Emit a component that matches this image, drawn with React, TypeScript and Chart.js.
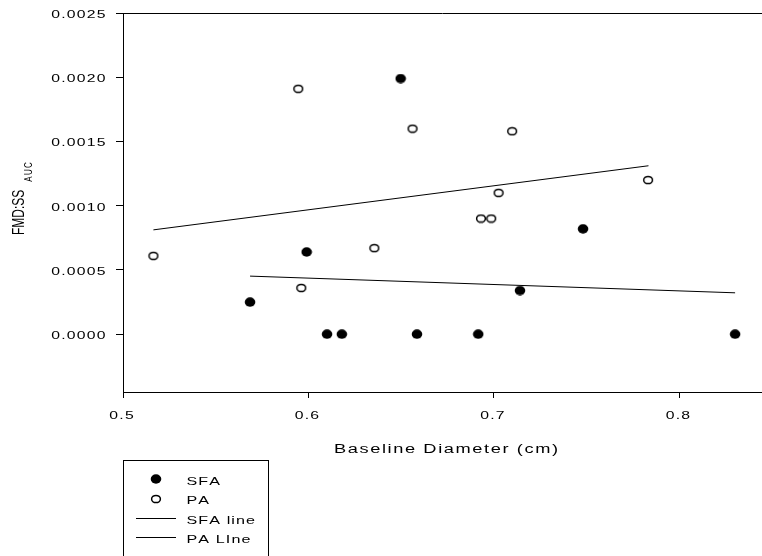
import { useEffect, useRef } from "react";
import { Chart, registerables } from "chart.js";

Chart.register(...registerables);

// Baseline diameter (cm) vs FMD:SS(AUC)
const sfaDiameter = [0.5685, 0.599, 0.61, 0.618, 0.6497, 0.6585, 0.6915, 0.714, 0.748, 0.83];
const sfaRatio = [0.00025, 0.00064, 0, 0, 0.00199, 0, 0, 0.00034, 0.00082, 0];
const paDiameter = [0.5164, 0.5945, 0.5961, 0.6355, 0.6561, 0.693, 0.6985, 0.7025, 0.7098, 0.7831];
const paRatio = [0.00061, 0.00191, 0.00036, 0.00067, 0.0016, 0.0009, 0.0009, 0.0011, 0.00158, 0.0012];

// Fitted regression lines (end points)
const sfaLineX = [0.5685, 0.83];
const sfaLineY = [0.000452, 0.000322];
const paLineX = [0.5164, 0.7833];
const paLineY = [0.000812, 0.001311];

const seriesLabels = ["SFA", "PA", "SFA line", "PA LIne"];

const xTicks = [0.5, 0.6, 0.7, 0.8];
const xTickLabels = ["0.5", "0.6", "0.7", "0.8"];
const yTicks = [0, 0.0005, 0.001, 0.0015, 0.002, 0.0025];
const yTickLabels = ["0.0000", "0.0005", "0.0010", "0.0015", "0.0020", "0.0025"];

const xTitle = "Baseline Diameter (cm)";
const yTitleMain = "FMD:SS";
const yTitleSub = "AUC";

const FONT = '"Liberation Sans", Arial, sans-serif';

// Draws text stretched horizontally with extra tracking between glyphs.
function drawSpaced(
  ctx: CanvasRenderingContext2D,
  text: string,
  x: number,
  y: number,
  align: "left" | "center" | "right",
  sx: number,
  spacing: number
) {
  const chars = [...text];
  const widths = chars.map((c) => ctx.measureText(c).width * sx);
  const total = widths.reduce((a, b) => a + b, 0) + spacing * (chars.length - 1);
  let cx = align === "left" ? x : align === "center" ? x - total / 2 : x - total;
  ctx.textAlign = "left";
  chars.forEach((c, i) => {
    ctx.save();
    ctx.translate(cx, y);
    ctx.scale(sx, 1);
    ctx.fillText(c, 0, 0);
    ctx.restore();
    cx += widths[i] + spacing;
  });
}

function makeMarker(filled: boolean): HTMLCanvasElement {
  const c = document.createElement("canvas");
  c.width = 12;
  c.height = 10;
  const g = c.getContext("2d")!;
  g.beginPath();
  if (filled) {
    g.ellipse(6, 5, 5.3, 4.65, 0, 0, Math.PI * 2);
    g.fillStyle = "#000";
    g.fill();
  } else {
    g.ellipse(6, 5, 4.4, 3.6, 0, 0, Math.PI * 2);
    g.fillStyle = "#fff";
    g.fill();
    g.lineWidth = 1.5;
    g.strokeStyle = "#000";
    g.stroke();
  }
  return c;
}

const annotate = {
  id: "annotate",
  afterDraw(chart: any) {
    const ctx: CanvasRenderingContext2D = chart.ctx;
    const area = chart.chartArea;
    const xs = chart.scales.x;
    const ys = chart.scales.y;
    ctx.save();
    ctx.fillStyle = "#000";
    ctx.strokeStyle = "#000";
    ctx.lineWidth = 1;

    // top frame line
    ctx.beginPath();
    ctx.moveTo(area.left, Math.round(area.top) + 0.5);
    ctx.lineTo(area.right, Math.round(area.top) + 0.5);
    ctx.stroke();

    // tick labels
    ctx.textBaseline = "alphabetic";
    ctx.font = `10.5px ${FONT}`;
    xs.ticks.forEach((t: any, i: number) => {
      const px = xs.getPixelForValue(t.value);
      drawSpaced(ctx, xTickLabels[i], px - 1.5, 419, "center", 1.5, 1.2);
    });
    ys.ticks.forEach((t: any, i: number) => {
      const py = ys.getPixelForValue(t.value);
      drawSpaced(ctx, yTickLabels[i], 105.5, py + 4.8, "right", 1.5, 1.2);
    });

    // x axis title
    ctx.font = `12px ${FONT}`;
    drawSpaced(ctx, xTitle, (area.left + area.right) / 2 + 3.5, 452.5, "center", 1.52, 1.6);

    // y axis title with subscript
    ctx.save();
    ctx.translate(24, 235);
    ctx.scale(1.33, 1);
    ctx.rotate(-Math.PI / 2);
    ctx.font = `12px ${FONT}`;
    ctx.textAlign = "left";
    ctx.fillText(yTitleMain, 0, 0);
    const w = ctx.measureText(yTitleMain).width;
    ctx.font = `8px ${FONT}`;
    drawSpaced(ctx, yTitleSub, w + 8, 6, "left", 1, 1.3);
    ctx.restore();

    // legend box
    ctx.strokeRect(123.5, 460.5, 145, 120);
    const ds = chart.data.datasets;
    ctx.font = `11.5px ${FONT}`;
    const rowY = [479.3, 498.6, 518, 537.3];
    ds.forEach((d: any, i: number) => {
      const cy = rowY[i];
      if (d.showLine) {
        ctx.beginPath();
        ctx.lineWidth = 1;
        ctx.strokeStyle = d.borderColor;
        ctx.moveTo(136, Math.round(cy) + 0.5);
        ctx.lineTo(176, Math.round(cy) + 0.5);
        ctx.stroke();
      } else {
        const img = d.pointStyle as HTMLCanvasElement;
        ctx.drawImage(img, Math.round(155.5 - img.width / 2), Math.round(cy - img.height / 2));
      }
      drawSpaced(ctx, d.label, 186.5, cy + 5.8, "left", 1.4, 1.1);
    });
    ctx.restore();
  },
};

export default function App() {
  const ref = useRef<HTMLCanvasElement | null>(null);

  useEffect(() => {
    if (!ref.current) return;
    const filled = makeMarker(true);
    const open = makeMarker(false);
    const toPts = (xs: number[], ys: number[]) => xs.map((x, i) => ({ x, y: ys[i] }));

    const chart = new Chart(ref.current, {
      type: "scatter",
      data: {
        datasets: [
          {
            label: seriesLabels[0],
            data: toPts(sfaDiameter, sfaRatio),
            pointStyle: filled as any,
            pointRadius: 5,
            showLine: false,
          },
          {
            label: seriesLabels[1],
            data: toPts(paDiameter, paRatio),
            pointStyle: open as any,
            pointRadius: 5,
            showLine: false,
          },
          {
            label: seriesLabels[2],
            data: toPts(sfaLineX, sfaLineY),
            showLine: true,
            pointRadius: 0,
            borderColor: "#000",
            borderWidth: 1,
          },
          {
            label: seriesLabels[3],
            data: toPts(paLineX, paLineY),
            showLine: true,
            pointRadius: 0,
            borderColor: "#000",
            borderWidth: 1,
          },
        ] as any,
      },
      options: {
        animation: false,
        responsive: false,
        devicePixelRatio: 1,
        layout: { autoPadding: false, padding: { top: 13, right: 0, bottom: 124, left: 0 } },
        plugins: { legend: { display: false }, tooltip: { enabled: false } },
        scales: {
          x: {
            type: "linear",
            min: 0.5,
            max: 0.8445,
            afterBuildTicks: (s: any) => {
              s.ticks = xTicks.map((v) => ({ value: v }));
            },
            afterFit: (s: any) => {
              s.height = 40;
            },
            ticks: { display: false },
            grid: { display: true, drawOnChartArea: false, drawTicks: true, tickLength: 6, color: "#000", lineWidth: 1 },
            border: { display: true, color: "#000", width: 1 },
          },
          y: {
            type: "linear",
            min: -0.00045,
            max: 0.0025,
            afterBuildTicks: (s: any) => {
              s.ticks = yTicks.map((v) => ({ value: v }));
            },
            afterFit: (s: any) => {
              s.width = 123;
            },
            ticks: { display: false },
            grid: { display: true, drawOnChartArea: false, drawTicks: true, tickLength: 7, color: "#000", lineWidth: 1 },
            border: { display: true, color: "#000", width: 1 },
          },
        },
      } as any,
      plugins: [annotate],
    });
    return () => chart.destroy();
  }, []);

  return (
    <div style={{ position: "absolute", left: 0, top: 0, width: 762, height: 556, background: "#fff" }}>
      <canvas ref={ref} width={762} height={556} style={{ display: "block" }} />
    </div>
  );
}
